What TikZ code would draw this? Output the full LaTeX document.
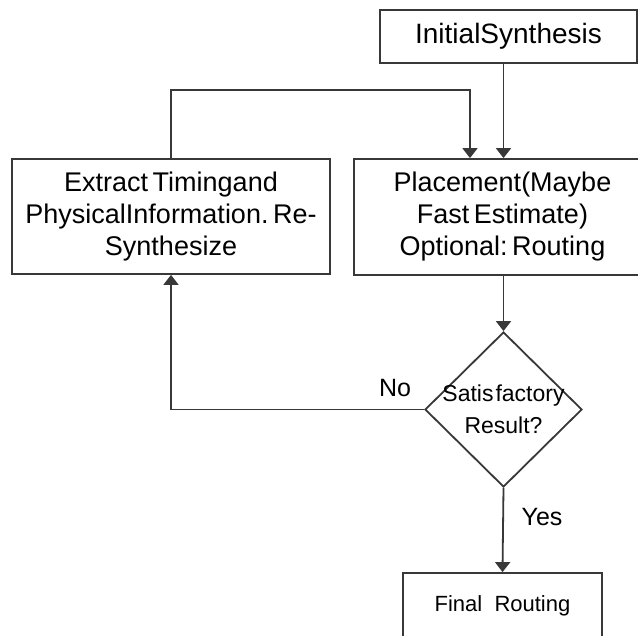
\documentclass[tikz,border=0pt]{standalone}
\usepackage{fontspec}
\setmainfont{Liberation Sans}
\usetikzlibrary{shapes.geometric,arrows.meta}

\begin{document}
\begin{tikzpicture}[x=1pt,y=-1pt,
  box/.style={draw=black!78, line width=1.8pt, fill=white, align=center, inner sep=0pt, font=\fontsize{27}{32}\selectfont},
  flow/.style={draw=black!78, line width=1.8pt, -{Triangle[width=15pt,length=10pt]}},
  lbl/.style={inner sep=0pt, font=\fontsize{25}{28}\selectfont}
  ]
\useasboundingbox (0,0) rectangle (638,636);
\clip (0,0) rectangle (638,636);
\fill[white] (0,0) rectangle (638,636);

\node[box, minimum width=257pt, minimum height=53pt, font=\fontsize{28}{31}\selectfont] (init) at (508.5,36.5) {InitialSynthesis};
\node[box, minimum width=318pt, minimum height=115pt] (extract) at (171,216.5) {Extract\,Timingand\\PhysicalInformation.\,Re-\\Synthesize};
\node[box, minimum width=297pt, minimum height=116pt] (place) at (502.5,217) {Placement(Maybe\\Fast\,Estimate)\\Optional:\,Routing};
\node[draw=black!78, line width=1.8pt, diamond, minimum width=157pt, minimum height=155pt, inner sep=0pt,
  label={[align=center, font=\fontsize{23}{32}\selectfont]center:Satis\kern2pt factory\\Result?}] (check) at (503.5,409.5) {};
\node[box, minimum width=199pt, minimum height=66pt, font=\fontsize{22}{25}\selectfont] (final) at (502.5,606) {Final~~Routing};

% labels on the branches
\node[lbl] (no) at (395,388) {No};
\node[lbl] (yes) at (542,517) {Yes};

% connectors
\coordinate (looptop) at (470,90);
\draw[flow] (init.south -| check.north) -- (place.north -| check.north);
\draw[flow] (extract.north) |- (looptop) -- (looptop |- place.north);
\draw[flow] (place.south -| check.north) -- (check.north);
\draw[flow] (check.west) -| (extract.south);
\draw[flow] (check.south) -- (final.north);
\end{tikzpicture}
\end{document}
